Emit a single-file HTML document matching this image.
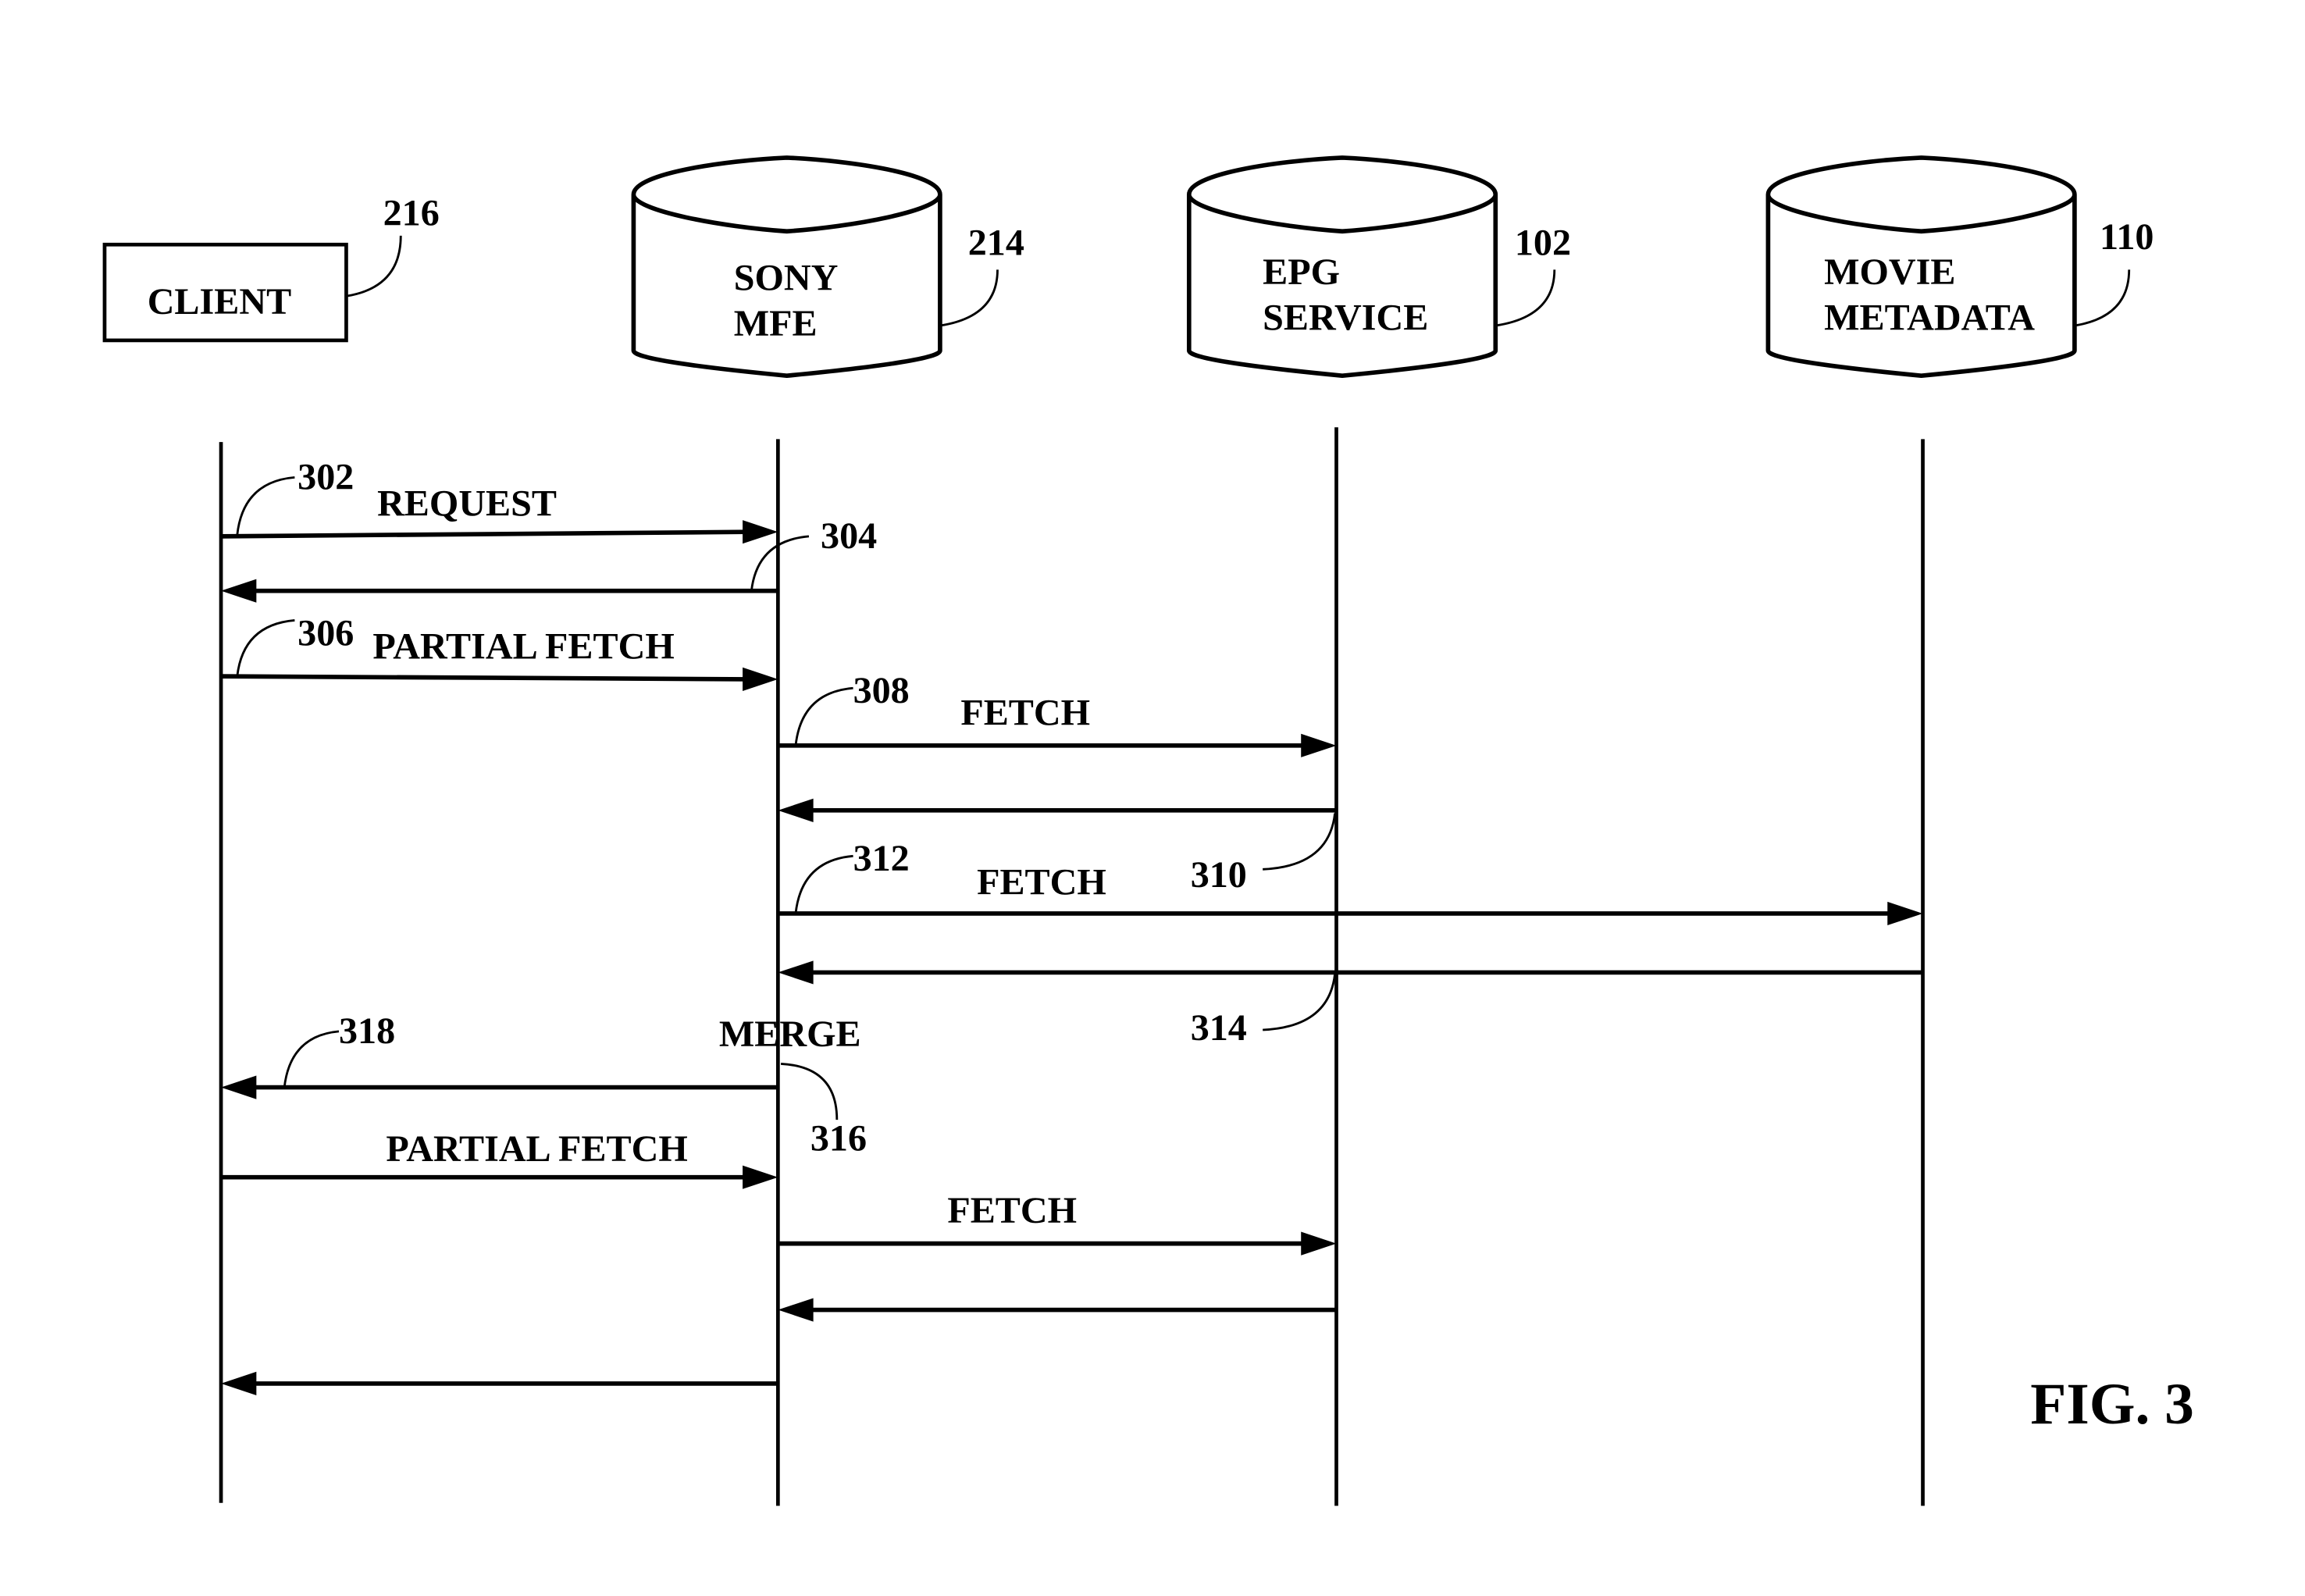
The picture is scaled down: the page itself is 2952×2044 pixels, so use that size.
<!DOCTYPE html>
<html><head><meta charset="utf-8"><style>
html,body{margin:0;padding:0;background:#fff;}
svg{display:block;}
text{font-family:"Liberation Serif",serif;font-weight:bold;fill:#000;}
</style></head><body>
<svg width="2952" height="2044" viewBox="0 0 2952 2044" xmlns="http://www.w3.org/2000/svg">
<rect width="2952" height="2044" fill="#fff"/>
<g transform="scale(1.887)" stroke="#000" fill="none" stroke-linecap="butt">
<rect x="71" y="166" width="164" height="65" stroke-width="2.5"/>
<g stroke-width="3">
<path d="M430,132 C430,118 490,109 534,107 C578,109 638,118 638,132 L638,238 Q638,245 534,255 Q430,245 430,238 Z M430,132 C430,143 490,154 534,157 C578,154 638,143 638,132"/>
<path d="M807,132 C807,118 867,109 911,107 C955,109 1015,118 1015,132 L1015,238 Q1015,245 911,255 Q807,245 807,238 Z M807,132 C807,143 867,154 911,157 C955,154 1015,143 1015,132"/>
<path d="M1200,132 C1200,118 1260,109 1304,107 C1348,109 1408,118 1408,132 L1408,238 Q1408,245 1304,255 Q1200,245 1200,238 Z M1200,132 C1200,143 1260,154 1304,157 C1348,154 1408,143 1408,132"/>
</g>
<g stroke-width="1.5">
<path d="M235,201 Q272,195 272,160"/>
<path d="M638,221 Q677,215 677,183"/>
<path d="M1015,221 Q1055,215 1055,183"/>
<path d="M1408,221 Q1445,215 1445,183"/>
<path d="M161,363 Q165,327 200,324"/>
<path d="M510,401 Q514,367 549,364"/>
<path d="M161,459 Q165,424 200,421"/>
<path d="M540,506 Q544,470 579,467"/>
<path d="M906,552 Q902,588 857,590"/>
<path d="M540,620 Q544,584 579,581"/>
<path d="M906,661 Q902,697 857,699"/>
<path d="M193,738 Q197,703 230,700"/>
<path d="M530,722 Q568,724 568,760"/>
</g>
<g stroke-width="2.5">
<line x1="150" y1="300" x2="150" y2="1020"/>
<line x1="528" y1="298" x2="528" y2="1022"/>
<line x1="907" y1="290" x2="907" y2="1022"/>
<line x1="1305" y1="298" x2="1305" y2="1022"/>
</g>
<g stroke-width="3">
<line x1="150" y1="364" x2="508" y2="361"/>
<line x1="170" y1="401" x2="528" y2="401"/>
<line x1="150" y1="459" x2="508" y2="461"/>
<line x1="528" y1="506" x2="886" y2="506"/>
<line x1="549" y1="550" x2="907" y2="550"/>
<line x1="528" y1="620" x2="1284" y2="620"/>
<line x1="549" y1="660" x2="1305" y2="660"/>
<line x1="170" y1="738" x2="528" y2="738"/>
<line x1="150" y1="799" x2="508" y2="799"/>
<line x1="528" y1="844" x2="886" y2="844"/>
<line x1="549" y1="889" x2="907" y2="889"/>
<line x1="170" y1="939" x2="528" y2="939"/>
</g>
<g fill="#000" stroke="none">
<polygon points="528,361 504,353 504,369"/>
<polygon points="150,401 174,393 174,409"/>
<polygon points="528,461 504,453 504,469"/>
<polygon points="907,506 883,498 883,514"/>
<polygon points="528,550 552,542 552,558"/>
<polygon points="1305,620 1281,612 1281,628"/>
<polygon points="528,660 552,652 552,668"/>
<polygon points="150,738 174,730 174,746"/>
<polygon points="528,799 504,791 504,807"/>
<polygon points="907,844 883,836 883,852"/>
<polygon points="528,889 552,881 552,897"/>
<polygon points="150,939 174,931 174,947"/>
</g>
<g stroke="none" font-size="25.5">
<text x="100" y="213">CLIENT</text>
<text x="498" y="197">SONY</text>
<text x="498" y="228">MFE</text>
<text x="857" y="193">EPG</text>
<text x="857" y="224">SERVICE</text>
<text x="1238" y="193">MOVIE</text>
<text x="1238" y="224">METADATA</text>
<text x="260" y="153">216</text>
<text x="657" y="173">214</text>
<text x="1028" y="173">102</text>
<text x="1425" y="169">110</text>
<text x="202" y="332">302</text>
<text x="256" y="350">REQUEST</text>
<text x="557" y="372">304</text>
<text x="202" y="438">306</text>
<text x="253" y="447">PARTIAL FETCH</text>
<text x="579" y="477">308</text>
<text x="652" y="492">FETCH</text>
<text x="808" y="602">310</text>
<text x="579" y="591">312</text>
<text x="663" y="607">FETCH</text>
<text x="808" y="706">314</text>
<text x="230" y="708">318</text>
<text x="488" y="710">MERGE</text>
<text x="550" y="781">316</text>
<text x="262" y="788">PARTIAL FETCH</text>
<text x="643" y="830">FETCH</text>
<text x="1378" y="966" font-size="40">FIG. 3</text>
</g>
</g>
</svg>
</body></html>
